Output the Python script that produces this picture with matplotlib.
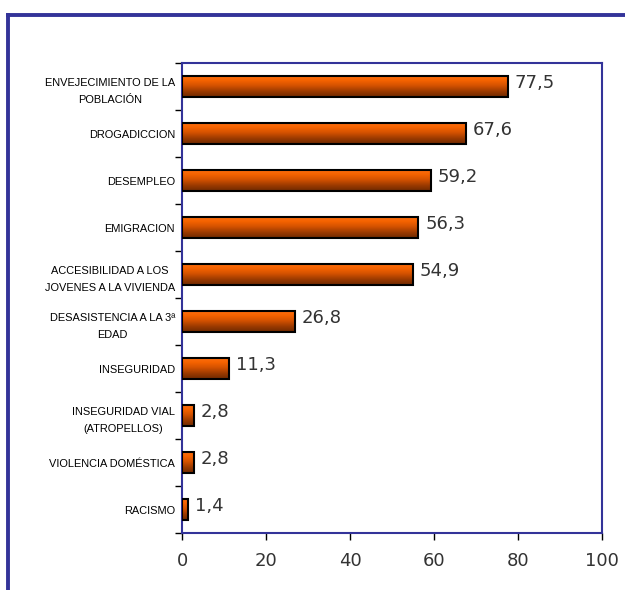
import numpy as np
import matplotlib
matplotlib.use("Agg")
import matplotlib.pyplot as plt
from matplotlib.colors import LinearSegmentedColormap
from matplotlib.lines import Line2D

categories = [
    "ENVEJECIMIENTO DE LA\nPOBLACIÓN",
    "DROGADICCION",
    "DESEMPLEO",
    "EMIGRACION",
    "ACCESIBILIDAD A LOS\nJOVENES A LA VIVIENDA",
    "DESASISTENCIA A LA 3ª\nEDAD",
    "INSEGURIDAD",
    "INSEGURIDAD VIAL\n(ATROPELLOS)",
    "VIOLENCIA DOMÉSTICA",
    "RACISMO",
]
values = [77.5, 67.6, 59.2, 56.3, 54.9, 26.8, 11.3, 2.8, 2.8, 1.4]
value_labels = ["77,5", "67,6", "59,2", "56,3", "54,9", "26,8", "11,3", "2,8", "2,8", "1,4"]
xticks = [0, 20, 40, 60, 80, 100]

plt.rcParams['font.family'] = ['Liberation Sans', 'DejaVu Sans']

fig = plt.figure(figsize=(6.25, 5.9), dpi=100)
ax = fig.add_axes([0.2912, 0.0966, 0.672, 0.7966])

navy = "#333399"
bar_h = 0.45
ypos = np.arange(len(categories))

cmap = LinearSegmentedColormap.from_list(
    "bar", ["#FF7010", "#F46200", "#D05000", "#9A3A00", "#702A00"])
grad = np.linspace(0, 1, 64).reshape(-1, 1)

bars = ax.barh(ypos, values, height=bar_h, color="#D05000",
               edgecolor="black", linewidth=1.3, zorder=3)
for b in bars:
    x0, y0 = b.get_x(), b.get_y()
    w, h = b.get_width(), b.get_height()
    im = ax.imshow(grad, cmap=cmap, aspect="auto",
                   extent=[x0, x0 + w, y0 + h, y0], zorder=3.5,
                   interpolation="bilinear")
    im.set_clip_path(b)
    ax.add_patch(plt.Rectangle((x0, y0), w, h, fill=False,
                               edgecolor="black", linewidth=1.5, zorder=4))

for y, v, lab in zip(ypos, values, value_labels):
    ax.text(v + 1.6, y - 0.08, lab, va="center", ha="left",
            fontsize=13, color="#333333", family="DejaVu Sans", zorder=5)

ax.set_xlim(0, 100)
ax.set_ylim(len(categories) - 0.5, -0.5)
ax.set_xticks(xticks)
ax.set_xticklabels([str(t) for t in xticks], fontsize=13, color="#333333",
                   family="DejaVu Sans")
ax.tick_params(axis="x", direction="out", length=5, width=1, color="black", pad=9)

ax.set_yticks(ypos)
ax.set_yticklabels(categories, fontsize=7.9, multialignment="center",
                   linespacing=1.9)
ax.tick_params(axis="y", which="major", length=0, pad=5)
ax.set_yticks(np.arange(-0.5, len(categories), 1.0), minor=True)
ax.tick_params(axis="y", which="minor", direction="out", length=5, width=1, color="black")

for s in ax.spines.values():
    s.set_color(navy)
    s.set_linewidth(1.5)

ax.set_facecolor("white")

# outer frame (top and left border)
fig.add_artist(Line2D([8 / 625, 1.0], [1 - 15 / 590, 1 - 15 / 590],
                      transform=fig.transFigure, color=navy, linewidth=2.8))
fig.add_artist(Line2D([8 / 625, 8 / 625], [0, 1 - 15 / 590],
                      transform=fig.transFigure, color=navy, linewidth=2.8))

fig.savefig("out.png", dpi=100)
